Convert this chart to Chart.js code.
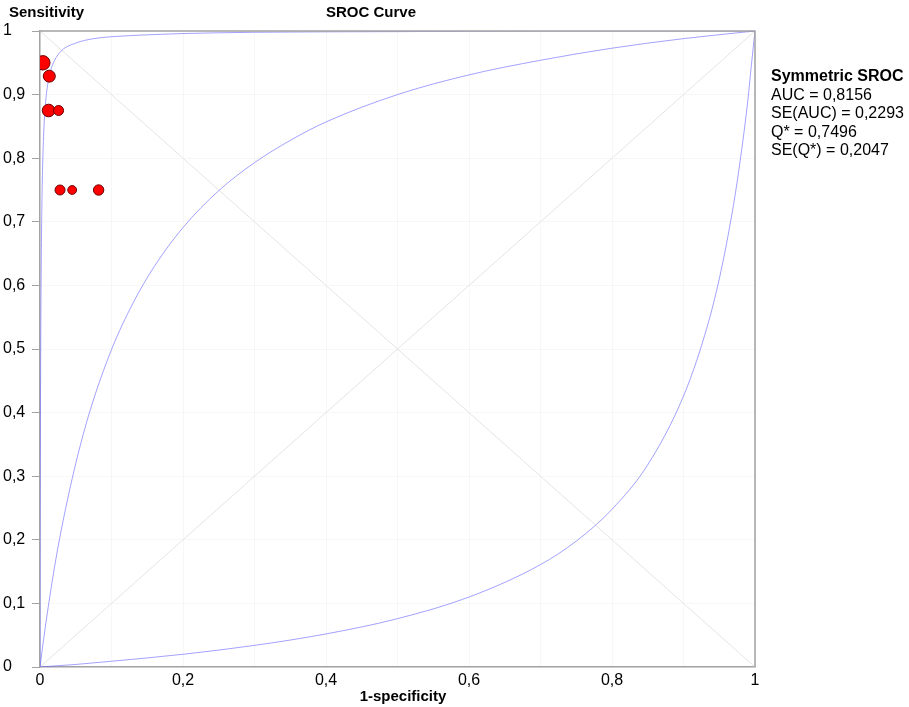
<!DOCTYPE html>
<html>
<head>
<meta charset="utf-8">
<script src="https://cdn.jsdelivr.net/npm/chart.js@4.4.0/dist/chart.umd.min.js"></script>
<style>
  html, body { margin: 0; padding: 0; background: #fff; }
  #wrap { position: relative; width: 909px; height: 707px; }
</style>
</head>
<body>
<div id="wrap"><canvas id="srocChart" width="909" height="707"></canvas></div>
<script>
// Study points (1-specificity, sensitivity) and marker weight
const studyFpr = [0.004, 0.013, 0.012, 0.026, 0.028, 0.045, 0.082];
const studyTpr = [0.950, 0.929, 0.875, 0.875, 0.750, 0.750, 0.750];
const studyWeight = [7.2, 6, 6.3, 5, 5, 4.4, 5.2];

// Symmetric SROC curve
const srocX = [0, 0.005, 0.01, 0.02, 0.03, 0.05, 0.07, 0.1, 0.13, 0.16, 0.2, 0.25, 0.3, 0.35, 0.4, 0.5, 0.6, 0.7, 0.8, 0.9, 1];
const srocY = [0, 0.043, 0.083, 0.155, 0.217, 0.320, 0.403, 0.499, 0.572, 0.630, 0.691, 0.749, 0.793, 0.828, 0.857, 0.900, 0.931, 0.954, 0.973, 0.988, 1];

// Upper bound curve
const upperX = [0, 0.0002, 0.0005, 0.001, 0.002, 0.003, 0.005, 0.0075, 0.01, 0.015, 0.02, 0.03, 0.05, 0.075, 0.1, 0.15, 0.2, 0.3, 0.5, 0.7, 1];
const upperY = [0, 0.167, 0.333, 0.500, 0.667, 0.751, 0.834, 0.883, 0.910, 0.938, 0.953, 0.969, 0.981, 0.988, 0.991, 0.994, 0.996, 0.998, 0.999, 1.0, 1];

// Lower bound curve
const lowerX = [0, 0.05, 0.1, 0.2, 0.3, 0.4, 0.5, 0.6, 0.7, 0.75, 0.8, 0.85, 0.9, 0.93, 0.95, 0.97, 0.98, 0.99, 0.995, 1];
const lowerY = [0, 0.004, 0.009, 0.020, 0.034, 0.052, 0.076, 0.110, 0.161, 0.198, 0.248, 0.318, 0.426, 0.523, 0.610, 0.727, 0.802, 0.891, 0.947, 1];

// Reference diagonals
const diagX = [0, 1];
const diagY = [0, 1];
const antiY = [1, 0];

// Tick labels
const xTickLabels = ["0", "", "0,2", "", "0,4", "", "0,6", "", "0,8", "", "1"];
const yTickLabels = ["0", "0,1", "0,2", "0,3", "0,4", "0,5", "0,6", "0,7", "0,8", "0,9", "1"];

// Text block on the right
const statsTitle = "Symmetric SROC";
const statsLines = ["AUC = 0,8156", "SE(AUC) = 0,2293", "Q* = 0,7496", "SE(Q*) = 0,2047"];

const fontFamily = "'Liberation Sans', Arial, sans-serif";
const axisColor = "#a3a3a3";
const curveColor = "rgba(105, 105, 255, 0.62)";

const toPoints = (xs, ys) => xs.map((x, i) => ({ x, y: ys[i] }));

const lineSet = (data, color) => ({
  data,
  showLine: true,
  borderColor: color,
  borderWidth: 1,
  pointRadius: 0,
  tension: 0.4,
  cubicInterpolationMode: "monotone",
  fill: false,
});

// Extra drawing: frame and labels
const decorPlugin = {
  id: "decor",
  afterDraw(chart) {
    const { ctx, chartArea: a } = chart;
    ctx.save();
    ctx.strokeStyle = axisColor;
    ctx.lineWidth = 1.5;
    ctx.beginPath();
    ctx.moveTo(a.left, a.top);
    ctx.lineTo(a.right, a.top);
    ctx.lineTo(a.right, a.bottom);
    ctx.stroke();

    ctx.fillStyle = "#000";
    ctx.textBaseline = "middle";
    ctx.font = `bold 15px ${fontFamily}`;
    ctx.textAlign = "left";
    ctx.fillText("Sensitivity", 9, 13);
    ctx.textAlign = "center";
    ctx.fillText("SROC Curve", 371, 13);
    ctx.fillText("1-specificity", 403, 697);

    ctx.textAlign = "left";
    ctx.font = `bold 16px ${fontFamily}`;
    ctx.fillText(statsTitle, 771, 77);
    ctx.font = `16px ${fontFamily}`;
    statsLines.forEach((t, i) => ctx.fillText(t, 771, 95.5 + i * 18.3));
    ctx.restore();
  },
};

const srocConfig = {
  type: "scatter",
  data: {
    datasets: [
      {
        data: toPoints(studyFpr, studyTpr),
        backgroundColor: "#ff0000",
        borderColor: "#6b0000",
        borderWidth: 1,
        pointRadius: studyWeight,
        pointHoverRadius: studyWeight,
      },
      lineSet(toPoints(upperX, upperY), curveColor),
      lineSet(toPoints(srocX, srocY), curveColor),
      lineSet(toPoints(lowerX, lowerY), curveColor),
      lineSet(toPoints(diagX, diagY), "#e4e4e4"),
      lineSet(toPoints(diagX, antiY), "#e4e4e4"),
    ],
  },
  options: {
    responsive: false,
    animation: false,
    layout: { padding: { left: 3, right: 154, top: 31, bottom: 0 } },
    plugins: {
      legend: { display: false },
      tooltip: { enabled: false },
      title: { display: false },
    },
    scales: {
      x: {
        type: "linear",
        min: 0,
        max: 1,
        afterFit: (scale) => { scale.height = 40; },
        ticks: {
          stepSize: 0.1,
          autoSkip: false,
          maxRotation: 0,
          padding: 4,
          color: "#000",
          font: { family: fontFamily, size: 16 },
          callback: (value, index) => xTickLabels[index],
        },
        grid: {
          color: "rgba(0,0,0,0.03)",
          drawTicks: false,
        },
        border: { color: axisColor, width: 1.5 },
      },
      y: {
        type: "linear",
        min: 0,
        max: 1,
        afterFit: (scale) => { scale.width = 37; },
        ticks: {
          stepSize: 0.1,
          autoSkip: false,
          crossAlign: "far",
          color: "#000",
          font: { family: fontFamily, size: 16 },
          callback: (value, index) => yTickLabels[index],
        },
        grid: {
          color: "rgba(0,0,0,0.03)",
          tickColor: axisColor,
          tickLength: 8,
        },
        border: { color: axisColor, width: 1.5 },
      },
    },
  },
  plugins: [decorPlugin],
};

const srocChart = new Chart(document.getElementById("srocChart"), srocConfig);
</script>
</body>
</html>
